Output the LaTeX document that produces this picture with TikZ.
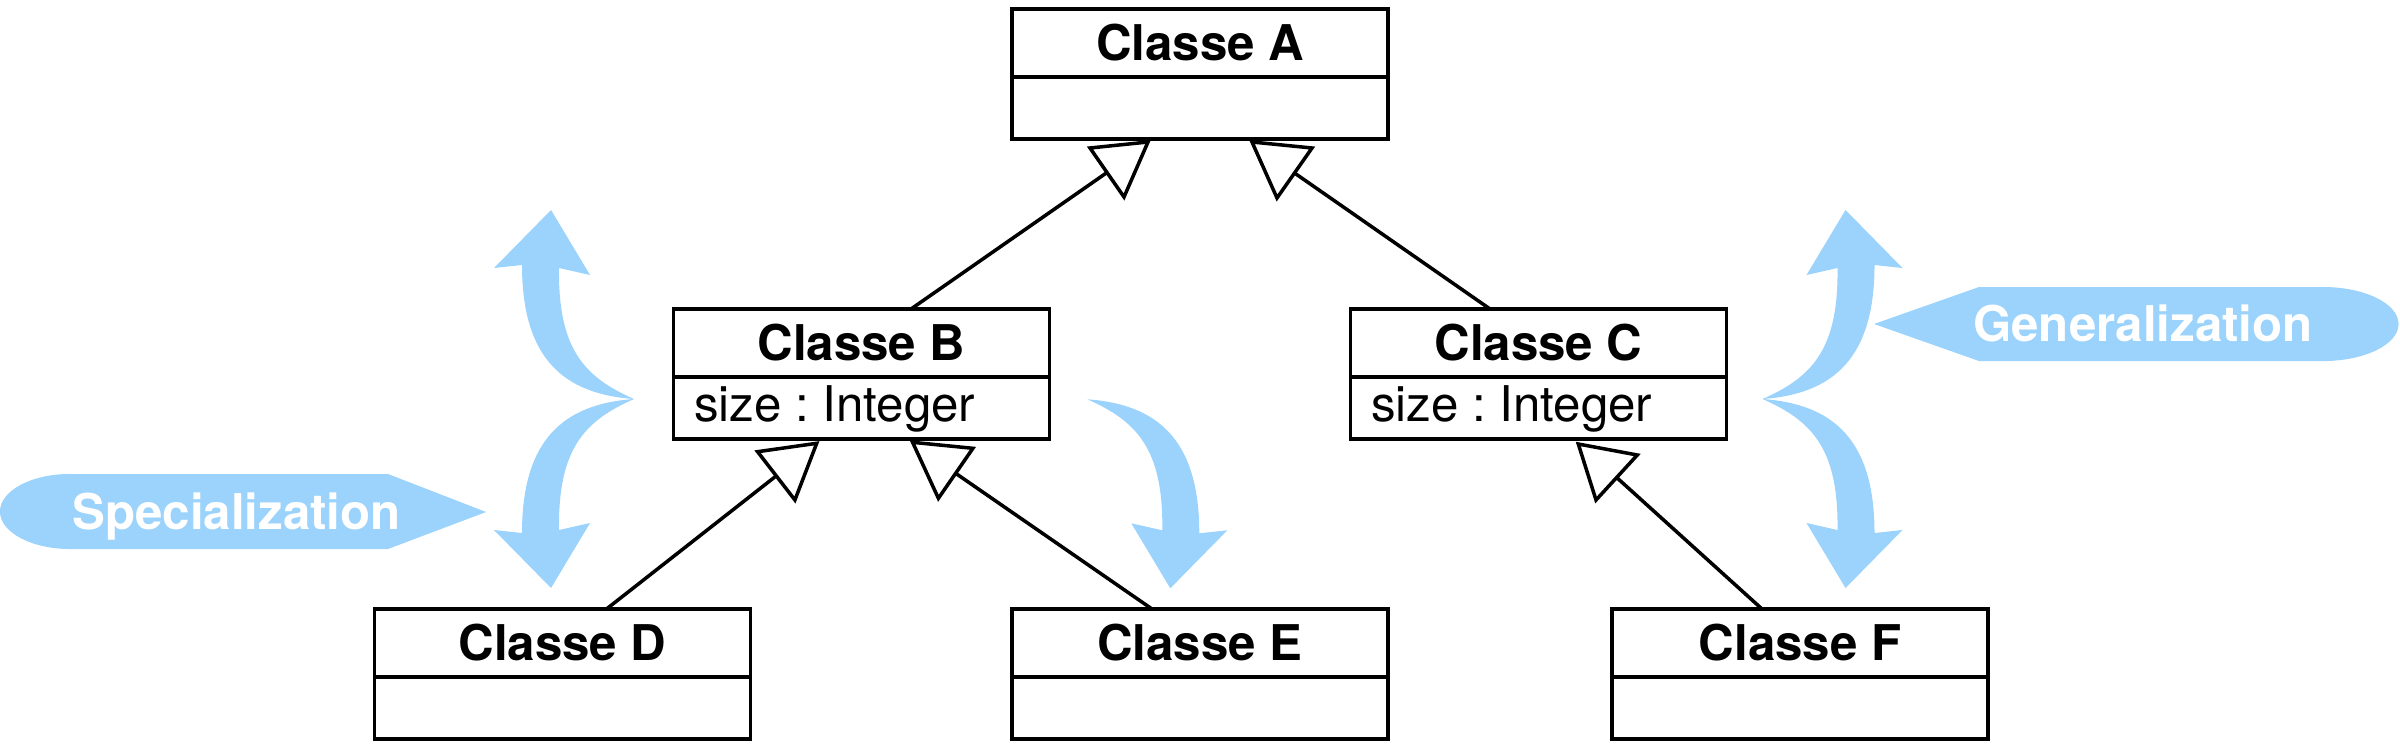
\documentclass[tikz,border=0pt]{standalone}
\usepackage{fontspec}
\setmainfont{TeX Gyre Heros}
\usetikzlibrary{calc}
\definecolor{sky}{RGB}{155,211,252}
\frenchspacing
\newcommand\skyarrow{\fill[sky] (0,0) .. controls (70,5) and (112,40) .. (112,134) -- (140,131) -- (83,189) -- (44,124) -- (75,131) .. controls (76,50) and (50,22) .. (0,0) -- cycle;}
\begin{document}
\begin{tikzpicture}[x=0.01cm,y=-0.01cm,
  box/.style={draw, line width=1.05pt, outer sep=0pt, minimum width=3.76cm, minimum height=1.30cm, inner sep=0pt, anchor=north},
  hdr/.style={outer sep=0pt, minimum width=3.76cm, minimum height=0.68cm, inner sep=0pt, anchor=north, font=\fontsize{14}{17}\selectfont\bfseries},
  divl/.style={line width=1.05pt},
  conn/.style={line width=1pt},
  tri/.style={draw, line width=1pt, fill=white, line join=miter},
  attr/.style={anchor=base west, inner sep=0pt, font=\fontsize{14}{17}\selectfont},
  lbl/.style={anchor=base, inner sep=0pt, text=white, font=\fontsize{14}{17}\selectfont\bfseries}]
\useasboundingbox (0,0) rectangle (2400,745);

% class boxes
\node[box] (A) at (1200,9) {};
\node[hdr] (Ah) at (A.north) {Classe A};
\draw[divl] (Ah.south west) -- (Ah.south east);
\node[box] (B) at (861.5,309) {};
\node[hdr] (Bh) at (B.north) {Classe B};
\draw[divl] (Bh.south west) -- (Bh.south east);
\node[attr] (Ba) at ($(Bh.south west)+(20,44.7)$) {size : Integer};
\node[box] (C) at (1538.5,309) {};
\node[hdr] (Ch) at (C.north) {Classe C};
\draw[divl] (Ch.south west) -- (Ch.south east);
\node[attr] (Ca) at ($(Ch.south west)+(20,44.7)$) {size : Integer};
\node[box] (D) at (562.5,609) {};
\node[hdr] (Dh) at (D.north) {Classe D};
\draw[divl] (Dh.south west) -- (Dh.south east);
\node[box] (E) at (1200,609) {};
\node[hdr] (Eh) at (E.north) {Classe E};
\draw[divl] (Eh.south west) -- (Eh.south east);
\node[box] (F) at (1800,609) {};
\node[hdr] (Fh) at (F.north) {Classe F};
\draw[divl] (Fh.south west) -- (Fh.south east);

% triangle corners
\coordinate (ta1) at (1090,148); \coordinate (ta2) at (1148,142); \coordinate (ta3) at (1124,197);
\coordinate (tb1) at (1252,142); \coordinate (tb2) at (1312,148); \coordinate (tb3) at (1277,198);
\coordinate (tc1) at (757.6,451.7); \coordinate (tc2) at (816.7,443.3); \coordinate (tc3) at (794.9,500);
\coordinate (td1) at (912.6,442.3); \coordinate (td2) at (972.9,448.3); \coordinate (td3) at (938.4,498.3);
\coordinate (te1) at (1578.3,444); \coordinate (te2) at (1637.3,455); \coordinate (te3) at (1596,500);

% connectors
\draw[conn] ($(B.north)+(49.5,0)$) -- ($(ta1)!0.5!(ta3)$);
\draw[conn] ($(C.north)+(-48.5,0)$) -- ($(tb2)!0.5!(tb3)$);
\draw[conn] ($(D.north)+(44,0)$) -- ($(tc1)!0.5!(tc3)$);
\draw[conn] ($(E.north)+(-48,0)$) -- ($(td2)!0.5!(td3)$);
\draw[conn] ($(F.north)+(-38,0)$) -- ($(te2)!0.5!(te3)$);

\draw[tri] (ta1) -- (ta2) -- (ta3) -- cycle;
\draw[tri] (tb1) -- (tb2) -- (tb3) -- cycle;
\draw[tri] (tc1) -- (tc2) -- (tc3) -- cycle;
\draw[tri] (td1) -- (td2) -- (td3) -- cycle;
\draw[tri] (te1) -- (te2) -- (te3) -- cycle;

% blue curved arrows
\begin{scope}[shift={(634,399)}, xscale=-1] \skyarrow \end{scope}
\begin{scope}[shift={(634,399)}, xscale=-1, yscale=-1] \skyarrow \end{scope}
\begin{scope}[shift={(1087.3,399.3)}] \skyarrow \end{scope}
\begin{scope}[shift={(1762.5,399)}] \skyarrow \end{scope}
\begin{scope}[shift={(1762.5,399)}, yscale=-1] \skyarrow \end{scope}

% callouts
\fill[sky] (70,474) -- (388,474) -- (486,512) -- (388,549) -- (70,549) arc[start angle=270, end angle=90, x radius=0.7cm, y radius=0.375cm] -- cycle;
\node[lbl] (spec) at (236.5,529) {Specialization};
\fill[sky] (1874,324) -- (1979,287) -- (2323,287) arc[start angle=90, end angle=-90, x radius=0.755cm, y radius=0.37cm] -- (1979,361) -- cycle;
\node[lbl] (gen) at (2143,341.7) {Generalization};
\end{tikzpicture}
\end{document}
